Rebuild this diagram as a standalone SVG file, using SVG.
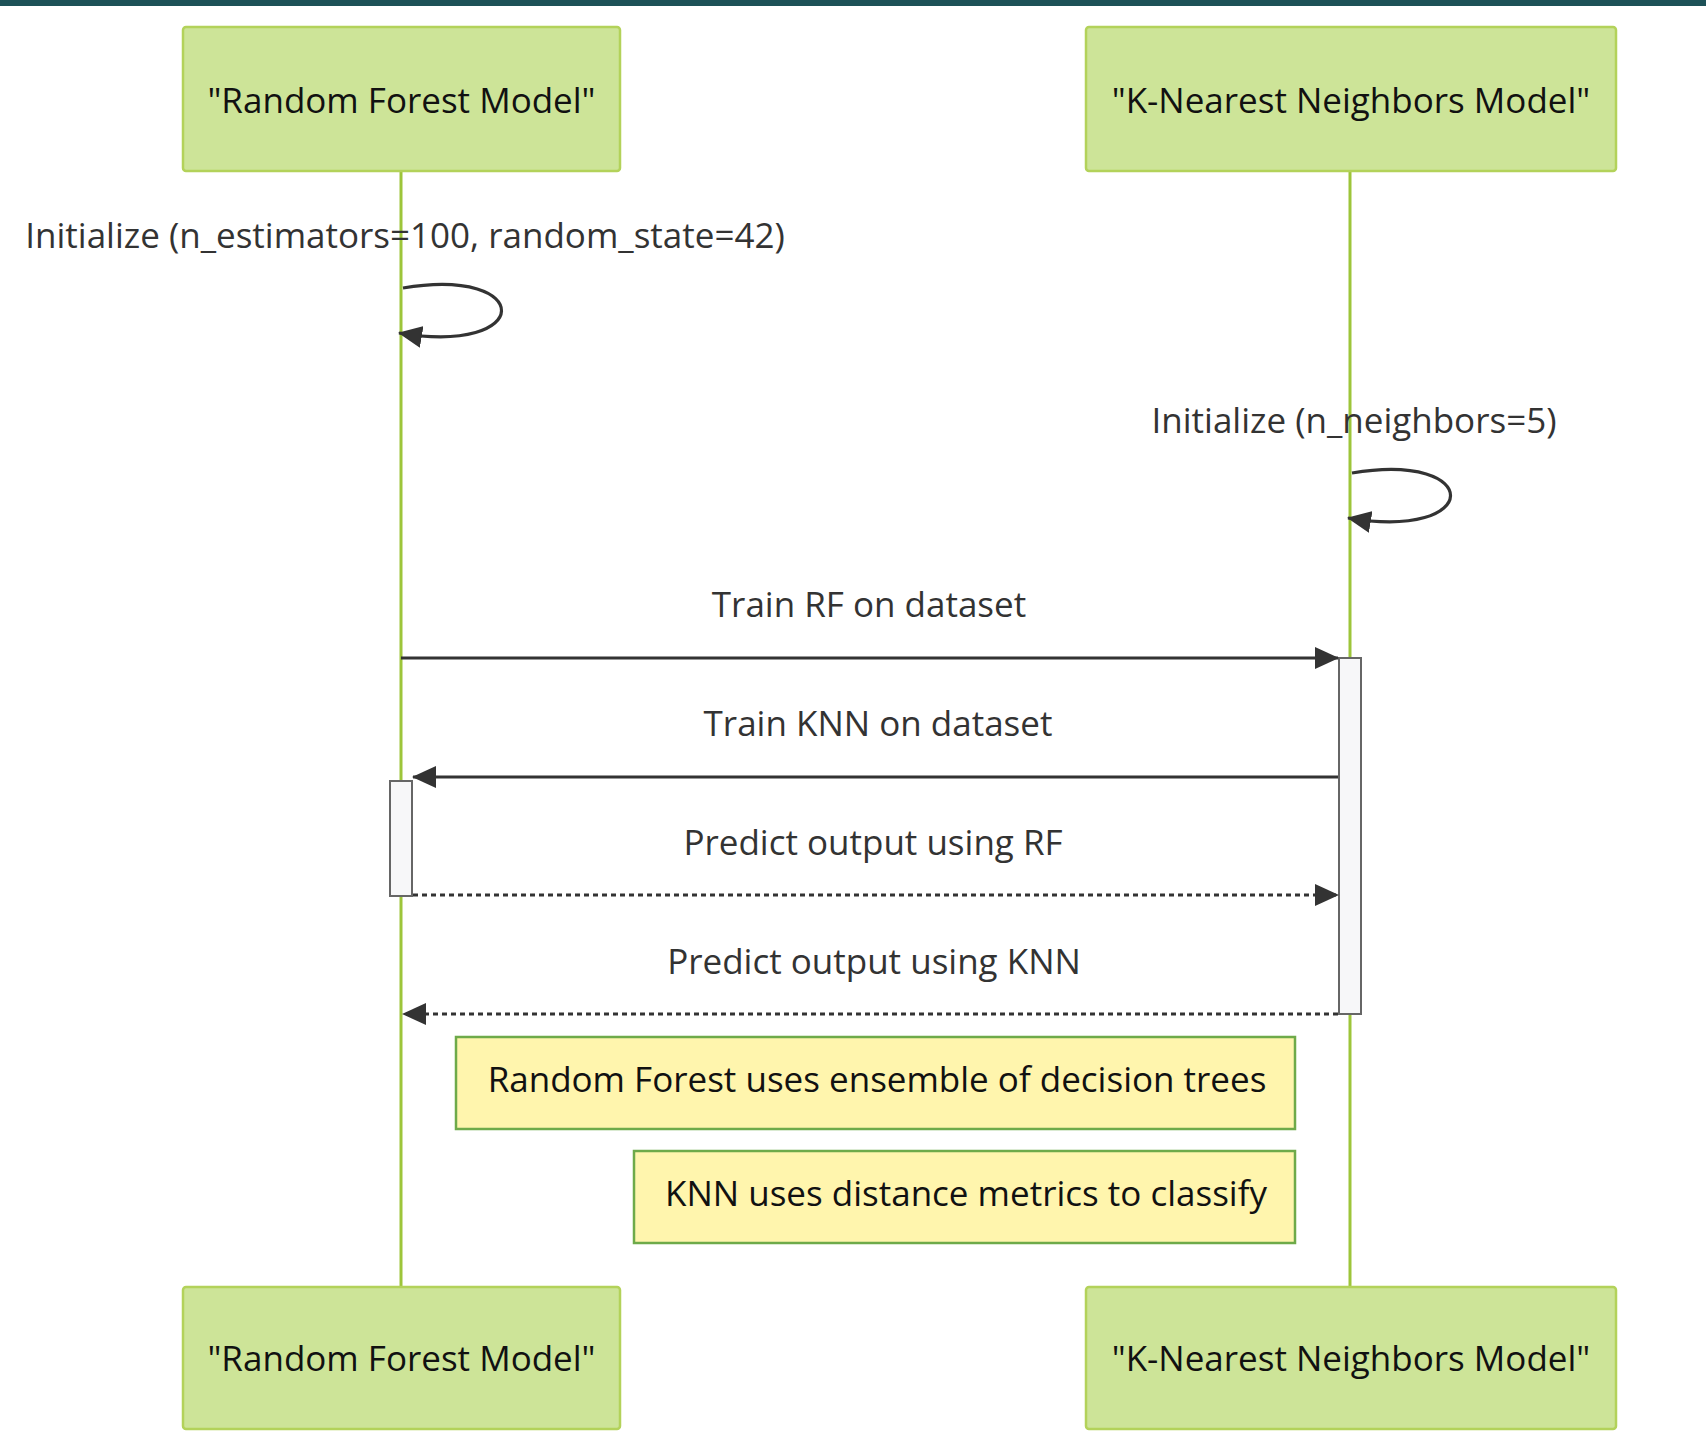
<svg xmlns="http://www.w3.org/2000/svg" width="1706" height="1441" viewBox="0 0 1706 1441">
<defs>
<style>
.actor{fill:#cde498;stroke:#b3d25a;stroke-width:2.5}
.atext{font-family:"Open Sans","Liberation Sans",sans-serif;font-size:35px;fill:#111;text-anchor:middle;dominant-baseline:central}
.life{stroke:#9dc53a;stroke-width:3}
.msg{stroke:#333;stroke-width:3.2;fill:none}
.dot{stroke-dasharray:5,4}
.mtext{font-family:"Open Sans","Liberation Sans",sans-serif;font-size:35px;fill:#333;text-anchor:middle;dominant-baseline:central}
.act{fill:#f7f7f9;stroke:#666;stroke-width:2}
.note{fill:#fff5ad;stroke:#6eaa49;stroke-width:2.5}
.ntext{font-family:"Open Sans","Liberation Sans",sans-serif;font-size:35px;fill:#111;text-anchor:middle;dominant-baseline:central}
</style>
<marker id="arrow" markerUnits="userSpaceOnUse" markerWidth="24" markerHeight="22" viewBox="0 0 24 22" refX="23" refY="11" orient="auto">
<path d="M0,0 L24,11 L0,22 z" fill="#333"/>
</marker>
</defs>
<rect x="0" y="0" width="1706" height="6" fill="#1d5157"/>
<g id="lifelines">
<line class="life" x1="401" y1="171" x2="401" y2="1287"/>
<line class="life" x1="1350" y1="171" x2="1350" y2="1287"/>
</g>
<g id="actor-rf-top">
<rect class="actor" x="183" y="27" width="437" height="144" rx="3"/>
<text class="atext" x="401.5" y="99">"Random Forest Model"</text>
</g>
<g id="actor-knn-top">
<rect class="actor" x="1086" y="27" width="530" height="144" rx="3"/>
<text class="atext" x="1351" y="99">"K-Nearest Neighbors Model"</text>
</g>
<g id="actor-rf-bottom">
<rect class="actor" x="183" y="1287" width="437" height="142" rx="3"/>
<text class="atext" x="401.5" y="1357">"Random Forest Model"</text>
</g>
<g id="actor-knn-bottom">
<rect class="actor" x="1086" y="1287" width="530" height="142" rx="3"/>
<text class="atext" x="1351" y="1357">"K-Nearest Neighbors Model"</text>
</g>
<g id="activations">
<rect class="act" x="1339" y="658" width="22" height="356"/>
<rect class="act" x="390" y="781" width="22" height="115"/>
</g>
<g id="connectors">
<text class="mtext" x="405" y="234">Initialize (n_estimators=100, random_state=42)</text>
<path class="msg" d="M403,288 C535,266 535,356 399,333" marker-end="url(#arrow)"/>
<text class="mtext" x="1354" y="419">Initialize (n_neighbors=5)</text>
<path class="msg" d="M1352,473 C1484,451 1484,541 1348,518" marker-end="url(#arrow)"/>
<text class="mtext" x="869" y="603">Train RF on dataset</text>
<line class="msg" x1="401" y1="658" x2="1338" y2="658" marker-end="url(#arrow)"/>
<text class="mtext" x="878" y="722">Train KNN on dataset</text>
<line class="msg" x1="1338" y1="777" x2="413" y2="777" marker-end="url(#arrow)"/>
<text class="mtext" x="873" y="841">Predict output using RF</text>
<line class="msg dot" x1="413" y1="895" x2="1338" y2="895" marker-end="url(#arrow)"/>
<text class="mtext" x="874" y="960">Predict output using KNN</text>
<line class="msg dot" x1="1338" y1="1014" x2="403" y2="1014" marker-end="url(#arrow)"/>
</g>
<g id="note-rf">
<rect class="note" x="456" y="1037" width="839" height="92"/>
<text class="ntext" x="877" y="1078">Random Forest uses ensemble of decision trees</text>
</g>
<g id="note-knn">
<rect class="note" x="634" y="1151" width="661" height="92"/>
<text class="ntext" x="966" y="1192">KNN uses distance metrics to classify</text>
</g>
</svg>
